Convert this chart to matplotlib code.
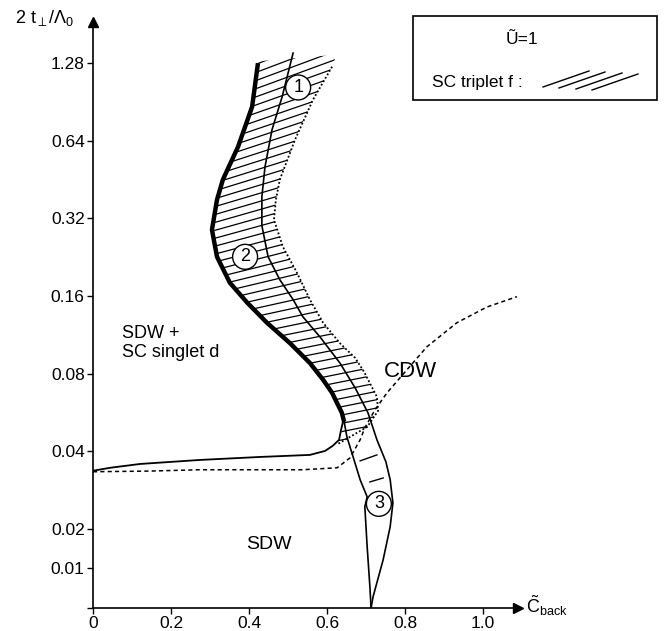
import numpy as np
import matplotlib.pyplot as plt
from matplotlib.patches import Polygon, Rectangle
from matplotlib.lines import Line2D

plt.rcParams['font.family'] = ['Liberation Sans', 'DejaVu Sans']
plt.rcParams['mathtext.fontset'] = 'custom'
plt.rcParams['mathtext.rm'] = 'Liberation Sans'
plt.rcParams['mathtext.it'] = 'Liberation Sans:italic'

# axe y: log2 au dessus de 0.02, lineaire en dessous
def fwd(t):
    t = np.asarray(t, float)
    return np.where(t >= 0.02, np.log2(np.maximum(t, 0.02) / 0.02), (t / 0.02 - 1) * 1.02)

def inv(u):
    u = np.asarray(u, float)
    return np.where(u >= 0, 0.02 * 2 ** np.minimum(u, 50), 0.02 * (u / 1.02 + 1))

# courbes (C_back, 2t/Lambda0)
thick_x = [0.423, 0.408, 0.372, 0.333, 0.318, 0.305, 0.318, 0.351, 0.395, 0.446, 0.505, 0.556, 0.590, 0.613, 0.638, 0.644]
thick_t = [1.28, 0.867, 0.607, 0.452, 0.378, 0.289, 0.227, 0.180, 0.151, 0.126, 0.105, 0.088, 0.0757, 0.0674, 0.0564, 0.052]

mid_x = [0.513, 0.485, 0.459, 0.441, 0.433, 0.433, 0.449, 0.479, 0.513, 0.538, 0.582, 0.633, 0.672, 0.705, 0.728, 0.751, 0.762, 0.769, 0.762, 0.744, 0.718, 0.713]
mid_t = [1.40, 0.948, 0.706, 0.507, 0.388, 0.300, 0.227, 0.185, 0.155, 0.133, 0.111, 0.088, 0.0705, 0.0564, 0.0443, 0.0364, 0.031, 0.0252, 0.0204, 0.0122, 0.0028, 0.0]

left3_x = [0.644, 0.651, 0.667, 0.685, 0.703, 0.697, 0.703, 0.710, 0.713]
left3_t = [0.052, 0.0455, 0.038, 0.031, 0.0266, 0.0244, 0.01545, 0.00535, 0.0]

dot_x = [0.613, 0.564, 0.518, 0.479, 0.469, 0.464, 0.487, 0.523, 0.556, 0.590, 0.633, 0.672, 0.695, 0.728, 0.731, 0.703, 0.628]
dot_t = [1.24, 0.923, 0.646, 0.452, 0.378, 0.316, 0.248, 0.197, 0.155, 0.126, 0.105, 0.0921, 0.0813, 0.065, 0.0574, 0.0497, 0.0427]

cdw_x = [0.0, 0.146, 0.274, 0.428, 0.538, 0.626, 0.659, 0.685, 0.697, 0.723, 0.754, 0.805, 0.856, 0.933, 1.010, 1.087]
cdw_t = [0.0333, 0.0335, 0.0339, 0.0339, 0.0339, 0.0345, 0.0377, 0.0443, 0.0493, 0.0579, 0.0674, 0.0828, 0.1016, 0.126, 0.145, 0.159]

sdw_x = [0.0, 0.044, 0.121, 0.274, 0.428, 0.556, 0.595, 0.615, 0.631, 0.636, 0.641]
sdw_t = [0.0336, 0.0345, 0.0357, 0.037, 0.038, 0.0387, 0.0401, 0.042, 0.0443, 0.0484, 0.052]

# petits traits dans la zone 3
dash3_x = [[0.685, 0.728], [0.710, 0.744]]
dash3_t = [[0.0367, 0.0387], [0.0304, 0.0315]]

# bord haut de la zone hachuree
top_x = [0.625, 0.42]
top_t = [1.38, 1.30]

circle_labels = ['1', '2', '3']
circle_x = [0.526, 0.390, 0.733]
circle_t = [1.03, 0.227, 0.025]

xticks = [0, 0.2, 0.4, 0.6, 0.8, 1.0]
xlabels = ['0', '0.2', '0.4', '0.6', '0.8', '1.0']
yticks = [0, 0.01, 0.02, 0.04, 0.08, 0.16, 0.32, 0.64, 1.28]
ylabels = ['', '0.01', '0.02', '0.04', '0.08', '0.16', '0.32', '0.64', '1.28']

fig = plt.figure(figsize=(6.64, 6.31), dpi=100)
W, H = 664, 631
ax = fig.add_axes([93 / W, (H - 608) / H, (518 - 93) / W, (608 - 22) / H])
ax.set_yscale('function', functions=(fwd, inv))
ax.set_xlim(0, 425 / 390)
ax.set_ylim(0, float(inv(6.53)))

# hachures
hx = thick_x + [dot_x[-1]] + dot_x[::-1][1:] + top_x
ht = thick_t + [dot_t[-1]] + dot_t[::-1][1:] + top_t
clip = Polygon(np.column_stack([hx, ht]), closed=True, fill=False, edgecolor='none')
ax.add_patch(clip)
for c in np.arange(0.9, 6.4, 0.107):
    p = 0.2 + 0.05 * max(c - 2.5, 0)
    k = p * 390 / 77.6
    xs = np.array([0.2, 0.85])
    us = c + k * (xs - 0.5)
    ln, = ax.plot(xs, inv(us), color='k', lw=0.9)
    ln.set_clip_path(clip)

ax.plot(thick_x, thick_t, color='k', lw=3.2, solid_capstyle='butt')
ax.plot(mid_x, mid_t, color='k', lw=1.2)
ax.plot(left3_x, left3_t, color='k', lw=1.2)
ax.plot(sdw_x, sdw_t, color='k', lw=1.3)
ax.plot(dot_x, dot_t, color='k', lw=1.3, linestyle=(0, (1, 1.2)))
ax.plot(cdw_x, cdw_t, color='k', lw=1.1, linestyle=(0, (2.7, 2.1)))
for sx, st in zip(dash3_x, dash3_t):
    ax.plot(sx, st, color='k', lw=1.0)

for lab, cx, ct in zip(circle_labels, circle_x, circle_t):
    ax.text(cx, ct, lab, fontsize=13, ha='center', va='center',
            bbox=dict(boxstyle='circle,pad=0.22', fc='white', ec='k', lw=1.0))

ax.text(0.074, 0.105, 'SDW +\nSC singlet d', fontsize=13, ha='left', va='center', linespacing=1.15)
ax.text(0.813, 0.0813, 'CDW', fontsize=16, ha='center', va='center')
ax.text(0.451, 0.016, 'SDW', fontsize=14, ha='center', va='center')

# axes
for s in ['top', 'right']:
    ax.spines[s].set_visible(False)
for s in ['left', 'bottom']:
    ax.spines[s].set_linewidth(1.2)
ax.minorticks_off()
ax.set_xticks(xticks)
ax.set_xticklabels(xlabels)
ax.set_yticks(yticks)
ax.set_yticklabels(ylabels)
ax.tick_params(direction='out', length=4, width=1, labelsize=12.5, pad=2)
ax.plot(1, 0, marker='>', ms=7, color='k', transform=ax.transAxes, clip_on=False)
ax.plot(0, 1, marker='^', ms=7, color='k', transform=ax.transAxes, clip_on=False)

fig.text(15 / W, 1 - 18 / H, r'$2\ \mathrm{t}_{\perp}/\Lambda_0$', fontsize=13, ha='left', va='center')
fig.text(526 / W, 1 - 606 / H, r'$\tilde{\mathrm{C}}_{\mathrm{back}}$', fontsize=13, ha='left', va='center')

# encadre legende
fig.add_artist(Rectangle((413 / W, 1 - 100 / H), 244 / W, 84 / H, transform=fig.transFigure,
                         fill=False, ec='k', lw=1.2))
fig.text(522 / W, 1 - 40 / H, 'Ũ=1', fontsize=12.5, ha='center', va='center')
fig.text(432 / W, 1 - 83 / H, 'SC triplet f :', fontsize=12.5, ha='left', va='center')
for x0, y0 in [(543, 87), (559, 88), (576, 89), (592, 90)]:
    fig.add_artist(Line2D([x0 / W, (x0 + 46) / W], [1 - y0 / H, 1 - (y0 - 16) / H],
                          transform=fig.transFigure, color='k', lw=1.0))

fig.savefig('out.png', dpi=100)
